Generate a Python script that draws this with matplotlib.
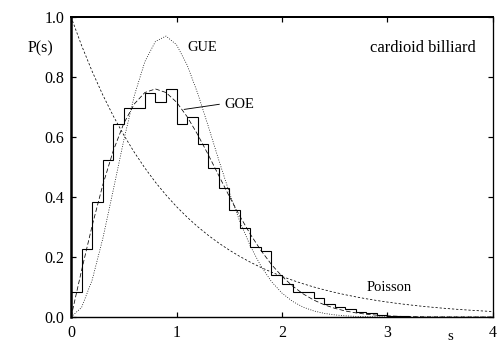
import matplotlib
matplotlib.use("Agg")
import matplotlib.pyplot as plt
import numpy as np

# ---- data ----
bin_edges = [round(0.1 * i, 1) for i in range(33)]
hist_vals = [0.083, 0.226, 0.382, 0.523, 0.642, 0.698, 0.698, 0.746, 0.718, 0.759,
             0.642, 0.666, 0.577, 0.496, 0.429, 0.357, 0.296, 0.234, 0.221, 0.140,
             0.109, 0.082, 0.082, 0.062, 0.045, 0.033, 0.027, 0.018, 0.012, 0.008,
             0.003, 0.003]

s_grid = [round(0.1 * i, 1) for i in range(41)]
goe_vals = [0.0, 0.1559, 0.3044, 0.4391, 0.5541, 0.6454, 0.7104, 0.7483, 0.7602, 0.7483,
            0.7162, 0.6680, 0.6083, 0.5416, 0.4718, 0.4025, 0.3365, 0.2759, 0.2220, 0.1752,
            0.1358, 0.1033, 0.0772, 0.0567, 0.0409, 0.0290, 0.0202, 0.0138, 0.0093, 0.0062,
            0.0040, 0.0025, 0.0015, 0.0009, 0.0005, 0.0003, 0.0002, 0.0001, 0.0001, 0.0, 0.0]
gue_vals = [0.0, 0.0320, 0.1233, 0.2602, 0.4232, 0.5896, 0.7380, 0.8514, 0.9186, 0.9364,
            0.9076, 0.8405, 0.7464, 0.6371, 0.5240, 0.4158, 0.3188, 0.2364, 0.1698, 0.1181,
            0.0797, 0.0521, 0.0331, 0.0204, 0.0122, 0.0071, 0.0040, 0.0022, 0.0011, 0.0005,
            0.0003, 0.0001, 0.0, 0.0, 0.0, 0.0, 0.0, 0.0, 0.0, 0.0, 0.0]
poisson_vals = [1.0, 0.9048, 0.8187, 0.7408, 0.6703, 0.6065, 0.5488, 0.4966, 0.4493, 0.4066,
                0.3679, 0.3329, 0.3012, 0.2725, 0.2466, 0.2231, 0.2019, 0.1827, 0.1653, 0.1496,
                0.1353, 0.1225, 0.1108, 0.1003, 0.0907, 0.0821, 0.0743, 0.0672, 0.0608, 0.0550,
                0.0498, 0.0450, 0.0408, 0.0369, 0.0334, 0.0302, 0.0273, 0.0247, 0.0224, 0.0202,
                0.0183]

x_ticks = [0, 1, 2, 3, 4]
x_ticklabels = ["0", "1", "2", "3", "4"]
y_ticks = [0.0, 0.2, 0.4, 0.6, 0.8, 1.0]
y_ticklabels = ["0.0", "0.2", "0.4", "0.6", "0.8", "1.0"]

# ---- plot ----
plt.rcParams['font.family'] = ['Liberation Serif', 'DejaVu Serif']
fig = plt.figure(figsize=(7, 5), dpi=72)
ax = fig.add_axes([0.141, 0.1194, 0.837, 0.8334])

ax.stairs(hist_vals, bin_edges, color='black', linewidth=1.1, baseline=0)
ax.plot(s_grid, goe_vals, color='black', linewidth=0.75, dashes=(6, 3))
ax.plot(s_grid, gue_vals, color='black', linewidth=0.75, dashes=(1.2, 2))
ax.plot(s_grid, poisson_vals, color='black', linewidth=0.75, dashes=(3, 2.5))

ax.set_xlim(0, 4)
ax.set_ylim(0, 1.0)
ax.set_xticks(x_ticks)
ax.set_xticklabels(x_ticklabels)
ax.set_yticks(y_ticks)
ax.set_yticklabels(y_ticklabels)
ax.tick_params(direction='in', length=5, width=1.2, top=True, right=True,
               labelsize=16)
ax.tick_params(axis='x', pad=8)
ax.tick_params(axis='y', pad=7)

for side, lw in [('left', 2.5), ('top', 2.0), ('right', 1.3), ('bottom', 1.4)]:
    ax.spines[side].set_linewidth(lw)

ax.text(-0.29, 0.897, "P(s)", fontsize=16, ha='center', va='center', clip_on=False)
ax.text(3.60, -0.066, "s", fontsize=15, ha='center', va='center', clip_on=False)
ax.text(1.10, 0.897, "GUE", fontsize=14.5, ha='left', va='center')
ax.text(1.453, 0.707, "GOE", fontsize=14.5, ha='left', va='center')
ax.plot([1.073, 1.405], [0.692, 0.709], color='black', linewidth=0.9)
ax.text(3.84, 0.897, "cardioid billiard", fontsize=16.5, ha='right', va='center')
ax.text(2.80, 0.097, "Poisson", fontsize=14.5, ha='left', va='center')

fig.savefig("out.png", dpi=72, facecolor='white')
